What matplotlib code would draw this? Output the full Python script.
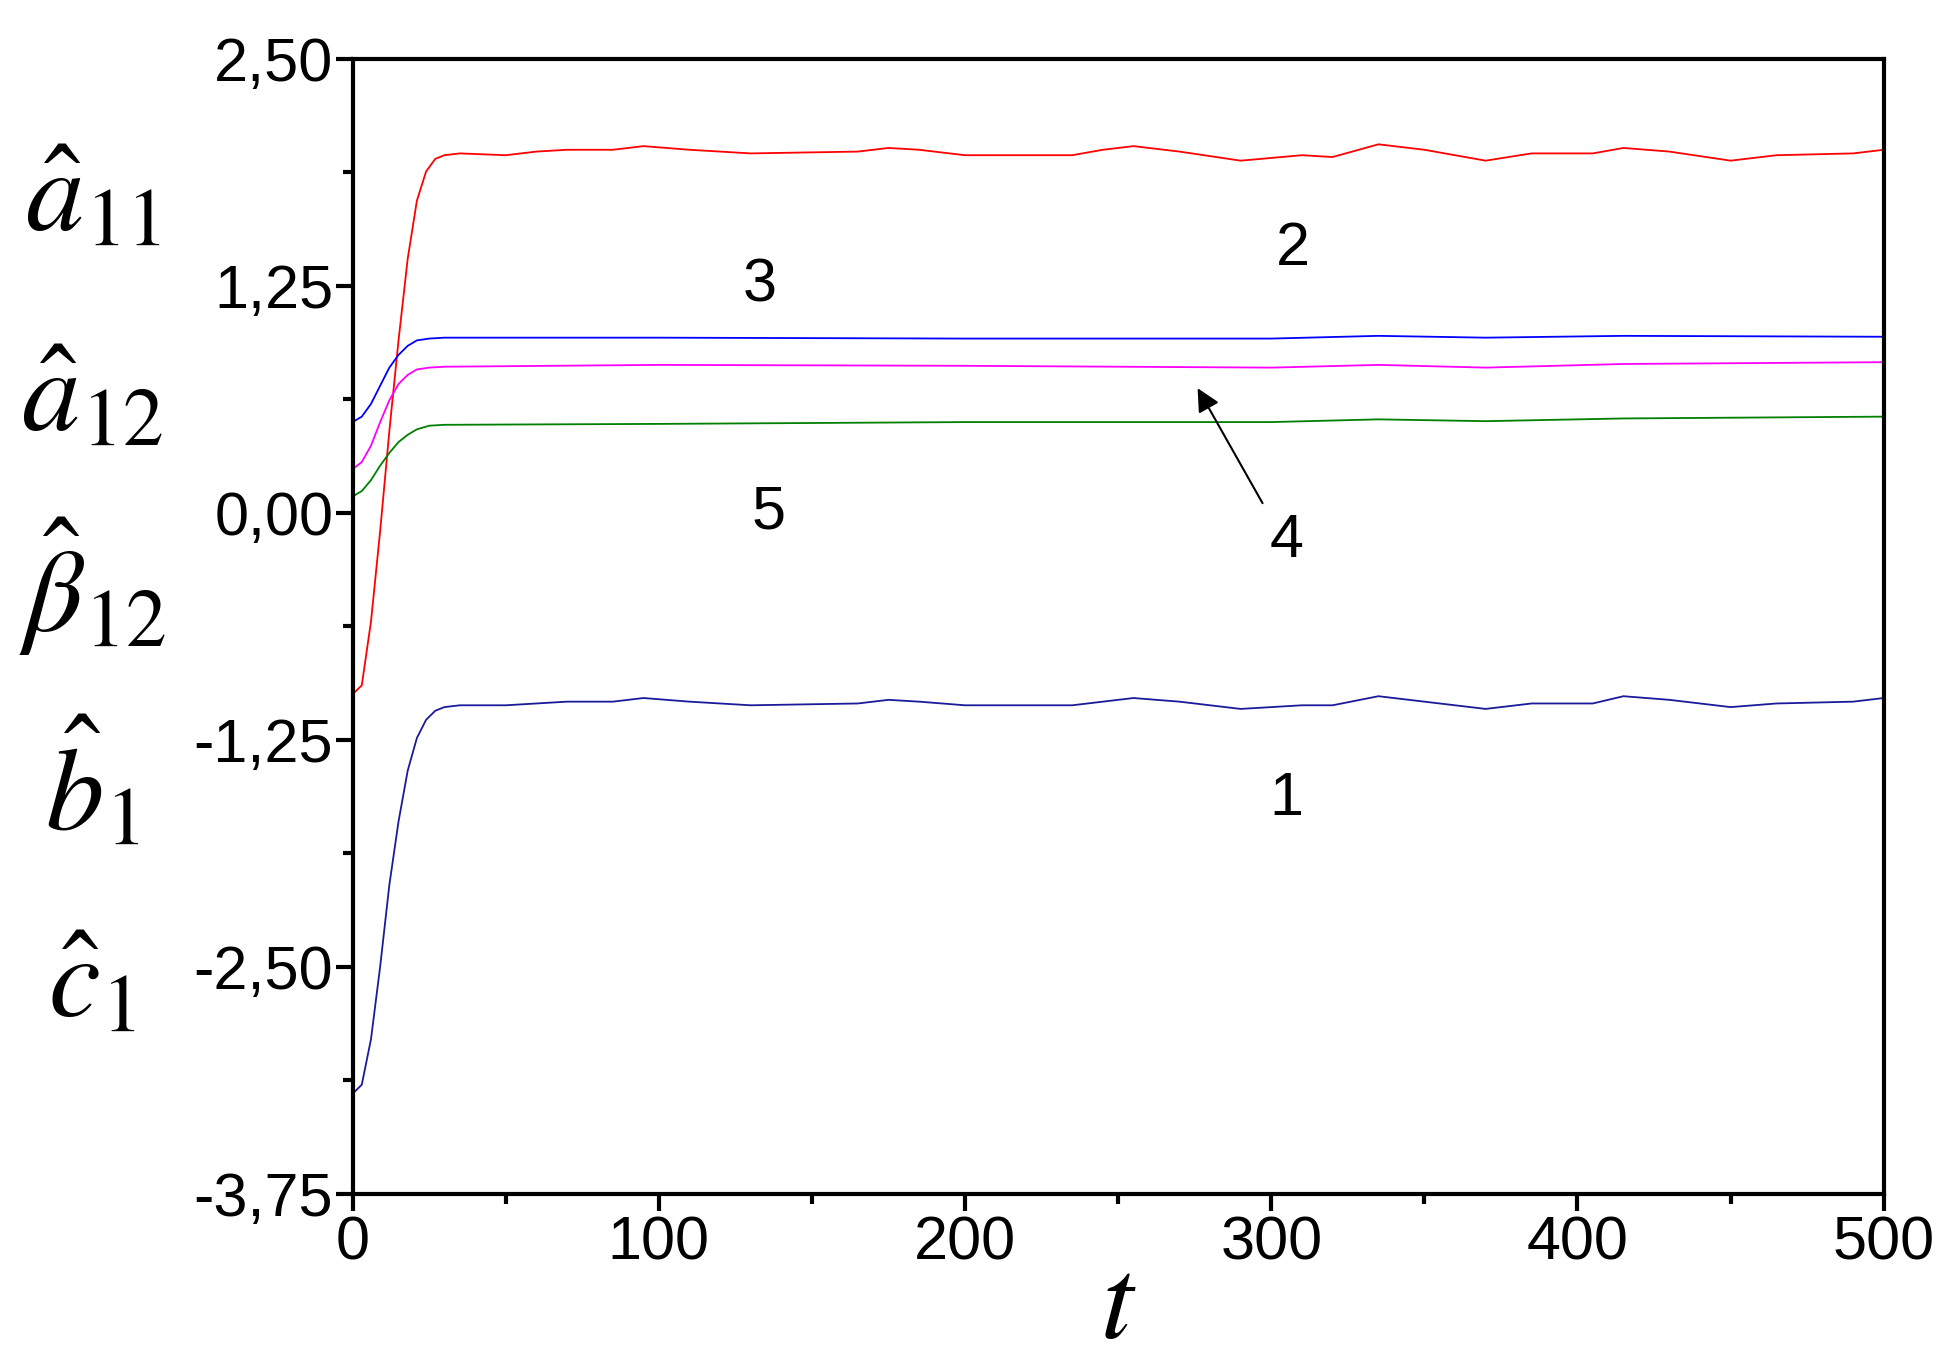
import numpy as np
import matplotlib.pyplot as plt
from matplotlib.ticker import MultipleLocator, FuncFormatter

plt.rcParams['font.family'] = ['Liberation Sans', 'DejaVu Sans']
plt.rcParams['mathtext.fontset'] = 'stix'

# curve 2 (red) and 1 (navy): rise then small wiggles
t_big = [0, 3, 6, 9, 12, 15, 18, 21, 24, 27, 30, 35, 50, 60, 70, 85, 95, 110, 130, 165, 175, 185,
         200, 235, 245, 255, 270, 290, 310, 320, 335, 350, 370, 385, 405, 415, 430, 450, 465, 490, 500]
red = [-1.0, -0.95, -0.6, -0.1, 0.45, 0.95, 1.4, 1.72, 1.88, 1.95, 1.97, 1.98, 1.97, 1.99, 2.0,
       2.0, 2.02, 2.0, 1.98, 1.99, 2.01, 2.0, 1.97, 1.97, 2.0, 2.02, 1.99, 1.94, 1.97, 1.96, 2.03,
       2.0, 1.94, 1.98, 1.98, 2.01, 1.99, 1.94, 1.97, 1.98, 2.0]
navy = [-3.2, -3.15, -2.9, -2.5, -2.05, -1.7, -1.42, -1.24, -1.14, -1.09, -1.07, -1.06, -1.06,
        -1.05, -1.04, -1.04, -1.02, -1.04, -1.06, -1.05, -1.03, -1.04, -1.06, -1.06, -1.04, -1.02,
        -1.04, -1.08, -1.06, -1.06, -1.01, -1.04, -1.08, -1.05, -1.05, -1.01, -1.03, -1.07, -1.05,
        -1.04, -1.02]

t_small = [0, 3, 6, 9, 12, 15, 18, 21, 25, 30, 100, 200, 300, 335, 370, 415, 500]
blue = [0.5, 0.53, 0.6, 0.7, 0.8, 0.87, 0.92, 0.95, 0.96, 0.965, 0.965, 0.96, 0.96, 0.975, 0.965, 0.975, 0.97]
magenta = [0.24, 0.28, 0.37, 0.5, 0.62, 0.71, 0.76, 0.79, 0.80, 0.805, 0.815, 0.81, 0.80, 0.815, 0.80, 0.82, 0.83]
green = [0.09, 0.12, 0.18, 0.26, 0.33, 0.39, 0.43, 0.46, 0.48, 0.485, 0.49, 0.50, 0.50, 0.515, 0.505, 0.52, 0.53]

fig = plt.figure(figsize=(19.48, 13.72), dpi=100)
ax = fig.add_axes([0.181, 0.130, 0.786, 0.827])

ax.plot(t_big, red, color='red', lw=1.3)
ax.plot(t_big, navy, color='#1a1a9a', lw=1.3)
ax.plot(t_small, blue, color='blue', lw=1.3)
ax.plot(t_small, magenta, color='magenta', lw=1.3)
ax.plot(t_small, green, color='green', lw=1.3)

ax.set_xlim(0, 500)
ax.set_ylim(-3.75, 2.5)
ax.xaxis.set_major_locator(MultipleLocator(100))
ax.xaxis.set_minor_locator(MultipleLocator(50))
ax.yaxis.set_major_locator(MultipleLocator(1.25))
ax.yaxis.set_minor_locator(MultipleLocator(0.625))
ax.yaxis.set_major_formatter(FuncFormatter(lambda v, p: f"{v:.2f}".replace('.', ',')))
for s in ax.spines.values():
    s.set_linewidth(3)
ax.tick_params(which='major', length=12, width=3, labelsize=44, direction='out')
ax.tick_params(which='minor', length=7, width=3, direction='out')
ax.tick_params(axis='y', pad=2)

ax.set_xlabel(r'$t$', fontsize=84, labelpad=-14)

labels = [(1.72, r'$\hat{a}_{11}$'), (0.62, r'$\hat{a}_{12}$'), (-0.41, r'$\hat{\beta}_{12}$'),
          (-1.51, r'$\hat{b}_{1}$'), (-2.61, r'$\hat{c}_{1}$')]
for yv, txt in labels:
    ax.text(-0.17, yv, txt, transform=ax.get_yaxis_transform(), fontsize=84,
            ha='center', va='center')

for x, y, s in [(307, 1.45, '2'), (133, 1.25, '3'), (136, 0.0, '5'), (305, -0.16, '4'), (305, -1.58, '1')]:
    ax.text(x, y, s, fontsize=44, ha='center', va='center')

ax.annotate('', xy=(275.5, 0.70), xytext=(297.6, 0.04),
            arrowprops=dict(arrowstyle='-|>', color='black', lw=1.5, mutation_scale=35))

fig.savefig('out.png', dpi=100)
